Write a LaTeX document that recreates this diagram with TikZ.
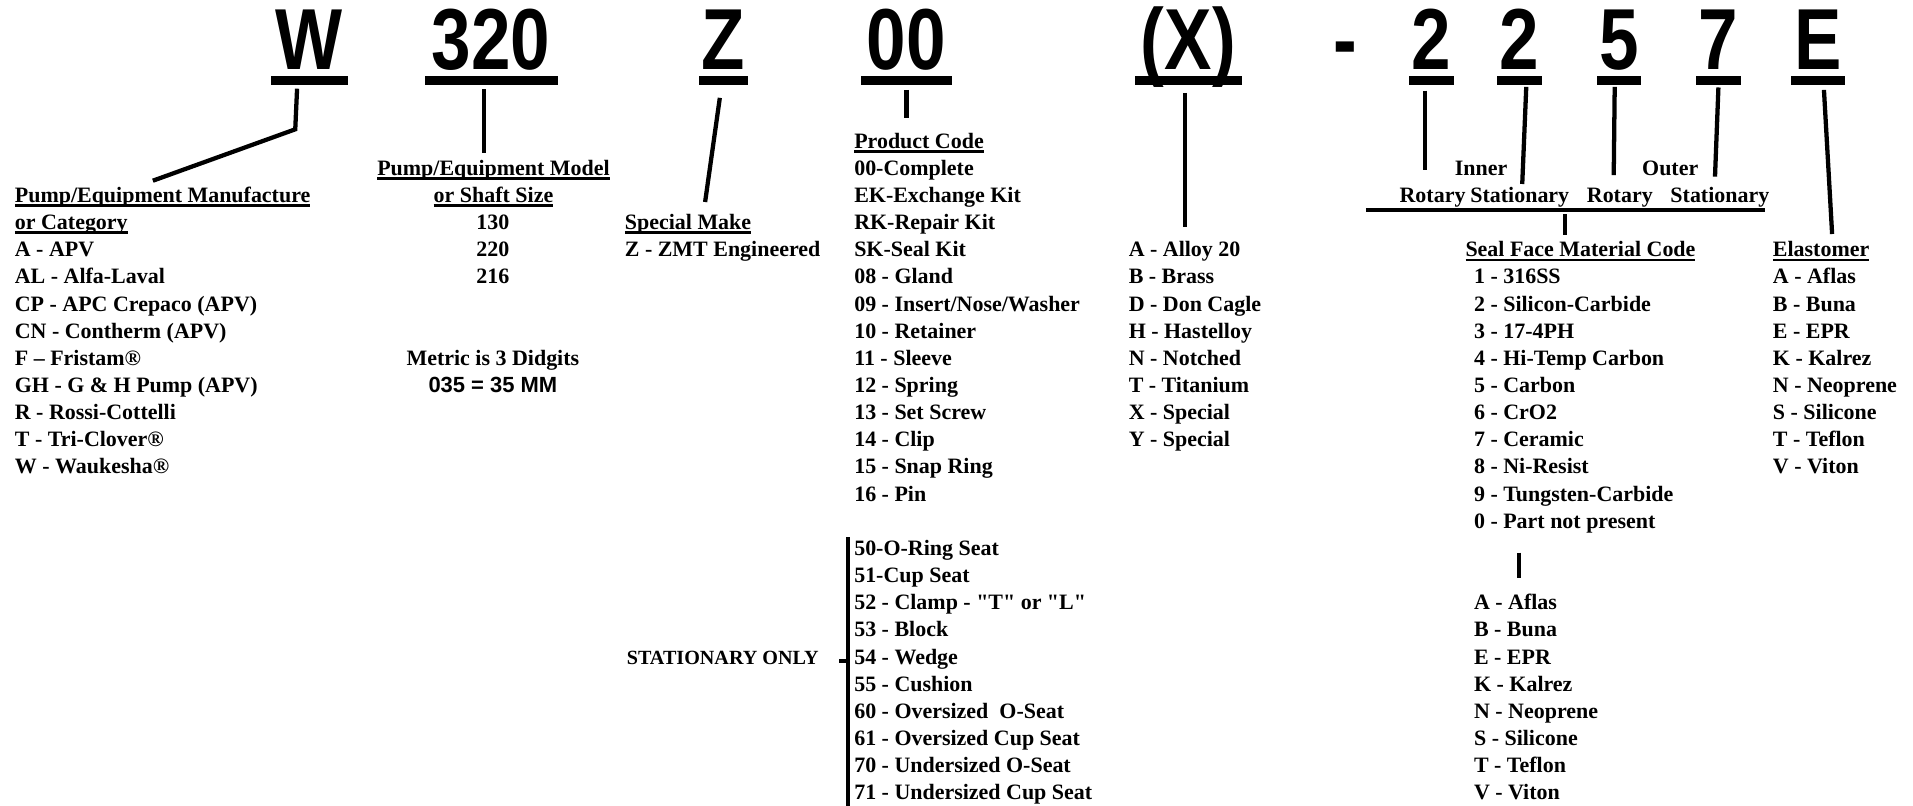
\documentclass[tikz,border=0pt]{standalone}
\usepackage{fontspec}
\setmainfont{Liberation Serif}[Ligatures=TeXOff]
\setsansfont{Liberation Sans}
\newfontfamily\codefont{Liberation Sans}[FakeStretch=0.82]

\def\rowbase{143.75}
\def\rowgap{22.25}
\newcommand\undl[1]{\sbox0{#1}\rlap{\rule[-3.5pt]{\wd0}{2pt}}\usebox0}

\tikzset{
  lbl/.style={inner sep=0pt, font=\bfseries\fontsize{18}{22}\selectfont},
  item/.style={lbl, anchor=base west},
  citem/.style={lbl, anchor=base},
  code/.style={inner sep=0pt, anchor=base, font=\codefont\bfseries\fontsize{71}{71}\selectfont},
  codebar/.style={fill=black, inner sep=0pt, minimum height=7pt},
  lead/.style={draw, line width=3.5pt}
  }

\begin{document}
\begin{tikzpicture}[x=1pt, y=-1pt]
  \useasboundingbox (0,0) rectangle (1568,660);

  % part number
  \foreach \cx/\bw/\name/\txt in {253.5/63/W/W, 402.5/109/M/320, 593/40/Z/Z, 743/74/P/00,
      974/88/X/(X), 1173.5/37/IR/2, 1245.5/37/IS/2, 1327/36/OR/5, 1408.5/37/OS/7, 1490/44.5/E/E} {
    \node[code] (c\name) at (\cx,57) {\txt};
    \node[codebar, minimum width=\bw pt] (b\name) at (\cx,66) {};
  }
  \node[code] (cdash) at (1102.5,57) {-};

  % manufacturer
  \node[item] (hMfr) at (12,\rowbase+\rowgap) {\undl{Pump/Equipment Manufacture}};
  \node[item] (hMfr2) at (12,\rowbase+2*\rowgap) {\undl{or Category}};
  \foreach \txt [count=\i from 3] in {A - APV, AL - Alfa-Laval, CP - APC Crepaco (APV),
      CN - Contherm (APV), F – Fristam®, GH - G \& H Pump (APV), R - Rossi-Cottelli,
      T - Tri-Clover®, W - Waukesha®}
    \node[item] (mfr\i) at (12,\rowbase+\i*\rowgap) {\txt};

  % model
  \node[citem] (hModel) at (404.5,\rowbase) {\undl{Pump/Equipment Model}};
  \node[citem] (hModel2) at (404.5,\rowbase+\rowgap) {\undl{or Shaft Size}};
  \foreach \txt [count=\i from 2] in {130, 220, 216}
    \node[citem] (model\i) at (404,\rowbase+\i*\rowgap) {\txt};
  \node[citem] (metric) at (404,\rowbase+7*\rowgap) {Metric is 3 Didgits};
  \node[citem, font=\sffamily\bfseries\fontsize{18}{22}\selectfont] (mm) at (404,\rowbase+8*\rowgap) {035 = 35 MM};

  % special make
  \node[item] (hSpecial) at (512,\rowbase+2*\rowgap) {\undl{Special Make}};
  \node[item] (special) at (512,\rowbase+3*\rowgap) {Z - ZMT Engineered};

  % product code
  \node[item] (hProd) at (700,\rowbase-\rowgap) {\undl{Product Code}};
  \foreach \txt [count=\i from 0] in {00-Complete, EK-Exchange Kit, RK-Repair Kit, SK-Seal Kit,
      08 - Gland, 09 - Insert/Nose/Washer, 10 - Retainer, 11 - Sleeve, 12 - Spring,
      13 - Set Screw, 14 - Clip, 15 - Snap Ring, 16 - Pin}
    \node[item] (prod\i) at (700,\rowbase+\i*\rowgap) {\txt};
  \foreach \txt [count=\i from 14] in {50-O-Ring Seat, 51-Cup Seat, 52 - Clamp - "T" or "L",
      53 - Block, 54 - Wedge, 55 - Cushion, 60 - Oversized~ O-Seat, 61 - Oversized Cup Seat,
      70 - Undersized O-Seat, 71 - Undersized Cup Seat}
    \node[item] (seat\i) at (700,\rowbase+\i*\rowgap) {\txt};
  \node[item, font=\bfseries\fontsize{16.5}{20}\selectfont] (hStat) at (513.6,\rowbase+18*\rowgap) {STATIONARY ONLY};

  % alloy
  \foreach \txt [count=\i from 3] in {A - Alloy 20, B - Brass, D - Don Cagle, H - Hastelloy,
      N - Notched, T - Titanium, X - Special, Y - Special}
    \node[item] (alloy\i) at (925,\rowbase+\i*\rowgap) {\txt};

  % seal faces
  \node[citem] (inner) at (1214,\rowbase) {Inner};
  \node[citem] (outer) at (1369,\rowbase) {Outer};
  \node[item] (iRot) at (1147,\rowbase+\rowgap) {Rotary};
  \node[item] (iStat) at (1205,\rowbase+\rowgap) {Stationary};
  \node[item] (oRot) at (1300.5,\rowbase+\rowgap) {Rotary};
  \node[item] (oStat) at (1369,\rowbase+\rowgap) {Stationary};
  \node[item] (hSeal) at (1201,\rowbase+3*\rowgap) {\undl{Seal Face Material Code}};
  \foreach \txt [count=\i from 4] in {1 - 316SS, 2 - Silicon-Carbide, 3 - 17-4PH,
      4 - Hi-Temp Carbon, 5 - Carbon, 6 - CrO2, 7 - Ceramic, 8 - Ni-Resist,
      9 - Tungsten-Carbide, 0 - Part not present}
    \node[item] (seal\i) at (1208,\rowbase+\i*\rowgap) {\txt};
  \foreach \txt [count=\i from 16] in {A - Aflas, B - Buna, E - EPR, K - Kalrez,
      N - Neoprene, S - Silicone, T - Teflon, V - Viton}
    \node[item] (low\i) at (1208,\rowbase+\i*\rowgap) {\txt};

  % elastomer
  \node[item] (hElast) at (1453,\rowbase+3*\rowgap) {\undl{Elastomer}};
  \foreach \txt [count=\i from 4] in {A - Aflas, B - Buna, E - EPR, K - Kalrez,
      N - Neoprene, S - Silicone, T - Teflon, V - Viton}
    \node[item] (elast\i) at (1453,\rowbase+\i*\rowgap) {\txt};

  % leaders
  \coordinate (kW) at (242,106);
  \draw[lead] ([xshift=-10pt,yshift=-3pt]bW.south) -- (kW) -- ([xshift=-8pt,yshift=5pt]hMfr.north);
  \draw[lead] ([xshift=-5.5pt,yshift=-3.5pt]bM.south) -- ([xshift=-5.5pt,yshift=6pt]bM.south |- hModel.north);
  \draw[lead] ([xshift=-3pt,yshift=-10.5pt]bZ.south) -- ([xshift=14pt,yshift=10pt]hSpecial.north);
  \draw[lead] ([yshift=-4pt]bP.south) -- ([yshift=12pt]bP.south |- hProd.north);
  \draw[lead] ([xshift=-3pt,yshift=-6.5pt]bX.south) -- ([xshift=-3pt,yshift=12pt]bX.south |- alloy3.north);
  \draw[lead] ([xshift=-5.5pt,yshift=-4.5pt]bIR.south) -- ([xshift=-5.5pt,yshift=14.5pt]bIR.south |- iRot.north);
  \draw[lead] ([xshift=5.5pt,yshift=-1.5pt]bIS.south) -- ([xshift=2pt,yshift=2.5pt]iStat.north);
  \draw[lead] ([xshift=-3.5pt,yshift=-1.5pt]bOR.south) -- ([xshift=-5pt,yshift=10.5pt]oRot.north);
  \draw[lead] ([yshift=-2pt]bOS.south) -- ([xshift=-4pt,yshift=8.5pt]oStat.north);
  \draw[lead] ([xshift=5pt,yshift=-4pt]bE.south) -- ([xshift=9pt,yshift=6pt]hElast.north);

  \draw[lead] ([xshift=-27.5pt,yshift=-6.25pt]iRot.base west) coordinate (faceL)
    -- ([xshift=-3.5pt,yshift=-6.25pt]oStat.base east) coordinate (faceR);
  \draw[lead] ([xshift=-12.5pt,yshift=-3.5pt]hSeal.north |- faceL) -- ([xshift=-12.5pt,yshift=5.5pt]hSeal.north);
  \draw[lead] ([xshift=37pt,yshift=-20pt]seal13.base west) -- ([xshift=37pt,yshift=13.5pt]low16.north west);

  \draw[lead] ([xshift=-5pt,yshift=2pt]seat14.north west) -- ([xshift=-5pt,yshift=-1pt]seat23.south west);
  \draw[lead, line width=3pt] ([xshift=-12pt,yshift=2.25pt]seat18.base west) -- ([xshift=-5pt,yshift=2.25pt]seat18.base west);

\end{tikzpicture}
\end{document}
